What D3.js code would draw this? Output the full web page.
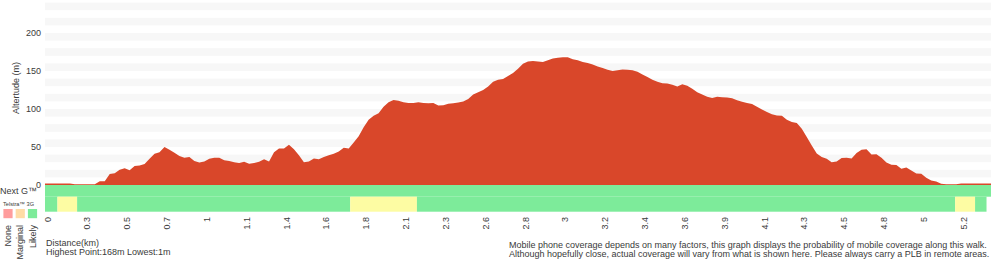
<!DOCTYPE html>
<html><head><meta charset="utf-8">
<script src="https://cdn.jsdelivr.net/npm/d3@7"></script>
<style>
html,body{margin:0;padding:0;background:#fff;}
svg{display:block;}
text{font-family:"Liberation Sans",Arial,Helvetica,sans-serif;fill:#3a3a3a;}
</style></head>
<body>
<svg id="chart" width="1000" height="260"></svg>
<script>
// Elevation (m) at equally spaced track points (index 0..190)
const elevation = [2,2,2,2,2,2,1,1,1,1,1,5,5,14.5,15.5,20,22,19.5,25,25.5,
27.5,34.5,41,43,50,46.5,42.5,38,36,37,31.5,29.5,31,34.5,36,36,32.5,31.5,30,29,
30.5,28,29,30.5,34,31,43,48,48,53,47,39,30,31,35,34,37,39,41,44,
49,48,56,64,76,86,91,94.5,103,109,112,111,109,108,108,109,108,107.5,108,104.5,
105,107,107.5,108.5,110,113,119,122,125,129.5,136,138.5,139.5,143.5,147.5,153,159.5,162.5,163,162.5,
162,164,166.5,167.5,168,168,165.5,164,162,160.5,158.5,156,154,151.5,150,151,152,151.5,151,149,
145.5,142,138.5,136,134,133.5,132,129.5,132.5,130.5,126.5,122,119,116,114.5,116,115.5,115,114,111.5,
109.5,108,106.5,103,99.5,96,93,91.5,91,86,83,81.5,74,63,52,41.5,37,34.5,30,31,
35.5,36,35,42,46.5,47,40,40.5,36,29.5,26.5,26.3,21.5,23,19,15,14.7,9.5,6,4.5,
1.5,1,1,1,2,2,2,2,2,2,2];

// Distance labels (km), one every 8 track points
const distanceLabels = ["0","0.3","0.5","0.7","1","1.1","1.4","1.6","1.8","2.1","2.3","2.6",
"2.8","3","3.2","3.4","3.6","3.9","4.1","4.3","4.5","4.8","5","5.2"];
const pointsPerTick = 8;

const altitudeTicks = [0,50,100,150,200];

// Coverage runs (start/end in track-point index)
const nextGStart = [0];
const nextGEnd   = [190];
const nextGLevel = ["Likely"];
const telstra3gStart = [0, 2.5, 6.45, 61.3, 74.7, 182.8, 186.8];
const telstra3gEnd   = [2.5, 6.45, 61.3, 74.7, 182.8, 186.8, 189.1];
const telstra3gLevel = ["Likely","Marginal","Likely","Marginal","Likely","Marginal","Likely"];

const legendLevels = ["None","Marginal","Likely"];

const svg = d3.select("#chart");
const x = d3.scaleLinear().domain([0, elevation.length-1]).range([45, 991]);
const y = d3.scaleLinear().domain([0, 200]).range([185, 33]);

const bandColor = d3.scaleOrdinal().domain(legendLevels).range(["#ff9d9d","#fdfca3","#7deb9a"]);
const legendColor = d3.scaleOrdinal().domain(legendLevels).range(["#ff9d9d","#ffdca6","#7deb9a"]);

// background stripes
const stripes = d3.range(10, 240, 20);
svg.append("g").selectAll("rect").data(stripes).join("rect")
  .attr("x", x(0)).attr("width", x(elevation.length-1)-x(0))
  .attr("y", d => y(d+10)).attr("height", d => y(d)-y(d+10))
  .attr("fill", "#f7f7f7");

// elevation area
const area = d3.area().x((d,i)=>x(i)).y0(y(0)).y1(d=>y(d));
svg.append("path").datum(elevation).attr("d", area).attr("fill", "#d9472a");

// coverage rows
const rowNext = {top:185, h:11.7};
const row3g = {top:196.7, h:15};
function drawRuns(starts, ends, levels, row){
  svg.append("g").selectAll("rect").data(starts.map((s,i)=>({s, e:ends[i], l:levels[i]}))).join("rect")
    .attr("x", d=>x(d.s)).attr("width", d=>x(d.e)-x(d.s))
    .attr("y", row.top).attr("height", row.h)
    .attr("fill", d=>bandColor(d.l));
}
drawRuns(nextGStart, nextGEnd, nextGLevel, rowNext);
drawRuns(telstra3gStart, telstra3gEnd, telstra3gLevel, row3g);

// y axis
const yAxis = d3.axisLeft(y).tickValues(altitudeTicks).tickSize(0).tickPadding(0);
const gy = svg.append("g").attr("transform","translate(41,0)").call(yAxis);
gy.select(".domain").remove();
gy.selectAll("text").style("font-size","9px").style("font-family","Liberation Sans, Arial, sans-serif").attr("fill","#3a3a3a");

svg.append("text").attr("transform","translate(19,88) rotate(-90)")
  .attr("text-anchor","middle").style("font-size","9px").text("Altertude (m)");

// x axis labels
const tickIdx = distanceLabels.map((d,i)=>i*pointsPerTick);
const xAxis = d3.axisBottom(x).tickValues(tickIdx).tickSize(0).tickPadding(0)
  .tickFormat((d,i)=>distanceLabels[i]);
const gx = svg.append("g").attr("transform","translate(0,217)").call(xAxis);
gx.select(".domain").remove();
gx.selectAll("text").attr("transform","translate(2,0) rotate(-90)")
  .attr("x",0).attr("y",0).attr("dy","0.35em").attr("text-anchor","end")
  .style("font-size","9px").style("font-family","Liberation Sans, Arial, sans-serif").attr("fill","#3a3a3a");

// row labels
svg.append("text").attr("x",0).attr("y",194).style("font-size","9px").text("Next G\u2122");
svg.append("text").attr("x",3).attr("y",206).style("font-size","5.6px").text("Telstra\u2122 3G");

// legend
const lx = d3.scalePoint().domain(legendLevels).range([8, 32.5]);
svg.append("g").selectAll("rect").data(legendLevels).join("rect")
  .attr("x", d=>lx(d)-4.6).attr("y",209).attr("width",9.2).attr("height",9.2)
  .attr("fill", d=>legendColor(d));
svg.append("g").selectAll("text").data(legendLevels).join("text")
  .attr("transform", d=>`translate(${lx(d)},225) rotate(-90)`)
  .attr("dy","0.35em").attr("text-anchor","end").style("font-size","9px").text(d=>d);

// footer text
svg.append("text").attr("x",46).attr("y",245.5).style("font-size","9px").text("Distance(km)");
svg.append("text").attr("x",46).attr("y",255).style("font-size","9px").text("Highest Point:" + d3.max(elevation) + "m Lowest:" + d3.min(elevation) + "m");
svg.append("text").attr("x",509).attr("y",247.5).style("font-size","9px")
  .text("Mobile phone coverage depends on many factors, this graph displays the probability of mobile coverage along this walk.");
svg.append("text").attr("x",509).attr("y",256.5).style("font-size","9px")
  .text("Although hopefully close, actual coverage will vary from what is shown here. Please always carry a PLB in remote areas.");
</script>
</body></html>
